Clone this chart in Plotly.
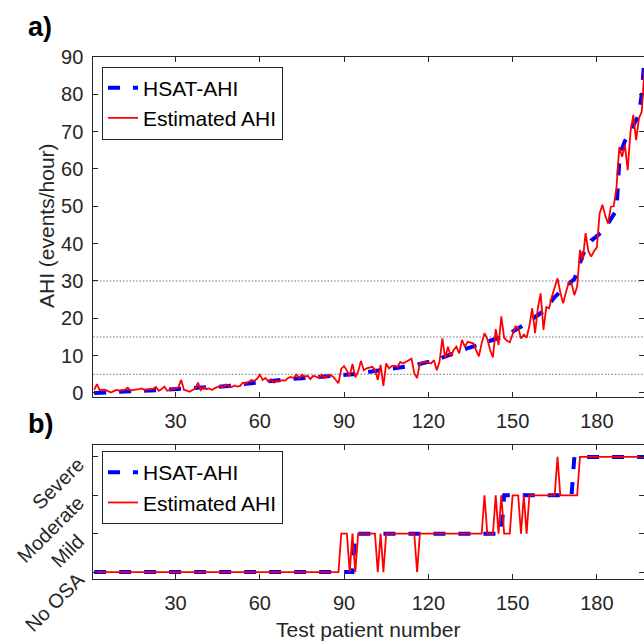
import numpy as np
import plotly.graph_objects as go

# ---- data -------------------------------------------------------------
# AHI (events/hour) for each test patient, sorted by the HSAT reference value
hsat_ahi = [
    0.0, 0.05, 0.1, 0.1, 0.15, 0.2, 0.2, 0.25, 0.3, 0.3,
    0.35, 0.35, 0.4, 0.4, 0.45, 0.5, 0.5, 0.55, 0.55, 0.6,
    0.6, 0.65, 0.7, 0.7, 0.75, 0.8, 0.85, 0.9, 0.95, 1.0,
    1.05, 1.1, 1.15, 1.2, 1.25, 1.3, 1.35, 1.4, 1.4, 1.45,
    1.5, 1.55, 1.6, 1.6, 1.65, 1.7, 1.7, 1.75, 1.8, 1.9,
    2.0, 2.1, 2.3, 2.4, 2.5, 2.6, 2.7, 2.8, 2.9, 3.0,
    3.1, 3.15, 3.2, 3.3, 3.35, 3.4, 3.5, 3.55, 3.6, 3.7,
    3.75, 3.8, 3.85, 3.9, 3.95, 4.0, 4.05, 4.1, 4.2, 4.25,
    4.3, 4.4, 4.45, 4.5, 4.55, 4.6, 4.65, 4.7, 4.75, 4.8,
    4.85, 4.9, 4.95, 5.1, 5.25, 5.35, 5.45, 5.55, 5.7, 5.8,
    5.9, 5.95, 6.0, 6.1, 6.15, 6.3, 6.45, 6.6, 6.75, 6.85,
    6.95, 7.0, 7.1, 7.2, 7.4, 7.6, 7.8, 7.95, 8.1, 8.25,
    8.4, 8.55, 8.75, 9.1, 9.5, 9.8, 10.0, 10.3, 10.6, 10.9,
    11.2, 11.5, 11.8, 12.0, 12.2, 12.5, 12.8, 13.1, 13.4, 13.6,
    13.8, 14.0, 14.2, 14.4, 14.6, 14.8, 15.2, 15.6, 16.0, 16.4,
    16.8, 17.2, 17.7, 18.2, 18.8, 19.3, 19.8, 20.2, 20.6, 21.1,
    21.7, 22.4, 23.2, 24.8, 25.7, 26.5, 27.3, 27.9, 28.5, 29.1,
    29.6, 30.5, 32.5, 35.0, 37.0, 38.5, 39.8, 40.8, 41.4, 42.0,
    42.6, 43.3, 44.2, 45.3, 46.4, 47.6, 49.0, 62.0, 65.5, 67.5,
    69.0, 70.5, 72.0, 73.2, 74.5, 80.0, 90.0,
]

estimated_ahi = [
    0.8, 2.4, 0.7, 0.9, 0.8, 0.5, 0.1, 0.5, 0.8, 0.6,
    0.7, 0.9, 1.4, 0.6, 0.8, 0.8, 1.0, 1.2, 0.8, 0.9,
    1.0, 1.1, 1.6, 0.6, 1.0, 1.7, 0.6, 0.8, 1.0, 1.2,
    1.5, 3.5, 0.8, 0.6, 0.3, 0.8, 1.2, 2.8, 0.8, 1.7,
    1.0, 1.2, 0.8, 1.3, 1.6, 1.9, 1.5, 2.3, 1.8, 1.6,
    2.0, 1.7, 1.9, 2.8, 2.5, 3.0, 3.5, 3.2, 3.8, 4.9,
    3.5, 4.0, 3.1, 3.7, 2.8, 3.2, 3.1, 3.4, 3.3, 4.0,
    4.3, 4.0, 4.9, 4.0, 4.9, 4.4, 4.6, 3.7, 4.6, 4.4,
    4.0, 4.9, 4.0, 4.6, 4.8, 4.4, 3.6, 2.6, 6.5, 7.2,
    6.0, 4.5, 7.8, 4.2, 5.7, 8.6, 6.1, 6.6, 6.8, 7.0,
    6.2, 3.5, 7.5, 1.9, 7.9, 6.6, 7.2, 7.3, 7.0, 8.3,
    7.9, 8.3, 8.8, 9.2, 5.3, 4.0, 7.9, 8.1, 8.4, 8.1,
    7.9, 8.8, 6.1, 8.4, 14.6, 9.3, 12.4, 9.7, 11.5, 12.4,
    10.6, 14.2, 12.4, 13.7, 13.5, 13.3, 11.5, 9.8, 13.3, 16.0,
    14.5, 11.5, 9.5, 17.1, 12.8, 20.5, 14.8, 14.0, 13.6, 15.8,
    17.8, 17.5, 14.6, 15.6, 14.8, 18.0, 22.7, 16.0, 22.7, 26.7,
    16.9, 23.0, 22.7, 25.8, 28.0, 30.7, 27.0, 24.0, 27.0, 29.6,
    29.4, 26.2, 28.5, 38.3, 35.6, 42.8, 38.0, 36.5, 38.0, 39.0,
    48.1, 50.4, 47.5, 45.4, 49.9, 50.0, 55.0, 65.9, 63.3, 66.4,
    59.7, 70.0, 74.5, 67.7, 73.6, 75.4, 87.0,
]

# OSA severity cut-offs (events/hour) and class names
severity_cutoffs = [5, 15, 30]
severity_labels = ["No OSA", "Mild", "Moderate", "Severe"]
severity_levels = [0, 1, 2, 3]

ahi_ticks = [0, 10, 20, 30, 40, 50, 60, 70, 80, 90]
patient_ticks = [30, 60, 90, 120, 150, 180]

# ---- derived ----------------------------------------------------------
patient = np.arange(1, len(hsat_ahi) + 1)
hsat_class = np.digitize(hsat_ahi, severity_cutoffs)
est_class = np.digitize(estimated_ahi, severity_cutoffs)

# ---- styling ----------------------------------------------------------
W, H = 644, 642
FONT = "Liberation Sans, Arial, Helvetica, sans-serif"
AX = "#262626"
BLUE = "#0000FF"
RED = "#FF0000"
blue_line = dict(color=BLUE, width=4, dash="12px,13px")
red_line = dict(color=RED, width=1.8)

x_dom = [93.3 / W, 1.0]
x_rng = [0.7, 196.8]
top_rng = [-1, 90]
bot_rng = [-0.18, 3.31]
top_dom = [1 - 396.7 / H, 1 - 57.0 / H]
bot_dom = [1 - 579.0 / H, 1 - 445.0 / H]

fig = go.Figure()

# a) continuous AHI
fig.add_trace(go.Scatter(x=patient, y=hsat_ahi, mode="lines", name="HSAT-AHI",
                         line=blue_line, xaxis="x", yaxis="y", legend="legend"))
fig.add_trace(go.Scatter(x=patient, y=estimated_ahi, mode="lines", name="Estimated AHI",
                         line=red_line, xaxis="x", yaxis="y", legend="legend"))

# b) severity class
fig.add_trace(go.Scatter(x=patient, y=hsat_class, mode="lines", name="HSAT-AHI",
                         line=blue_line, xaxis="x2", yaxis="y2", legend="legend2"))
fig.add_trace(go.Scatter(x=patient, y=est_class, mode="lines", name="Estimated AHI",
                         line=red_line, xaxis="x2", yaxis="y2", legend="legend2"))

# transparent carriers so the right-hand tick axes get drawn
fig.add_trace(go.Scatter(x=patient, y=hsat_ahi, mode="lines", opacity=0, showlegend=False,
                         hoverinfo="skip", line=dict(width=0), xaxis="x", yaxis="y3"))
fig.add_trace(go.Scatter(x=patient, y=hsat_class, mode="lines", opacity=0, showlegend=False,
                         hoverinfo="skip", line=dict(width=0), xaxis="x2", yaxis="y4"))

# severity cut-off guide lines in panel a)
for c in severity_cutoffs:
    fig.add_shape(type="line", xref="x domain", x0=0, x1=1, yref="y", y0=c, y1=c,
                  line=dict(color="#707070", width=1, dash="1.5px,1.8px"), layer="below")

xaxis_common = dict(
    domain=x_dom, range=x_rng, tickvals=patient_ticks, ticks="inside", ticklen=5,
    tickcolor=AX, showline=True, linecolor=AX, linewidth=1, mirror="ticks",
    showgrid=False, zeroline=False, tickfont=dict(size=20, color=AX, family=FONT),
    ticklabelstandoff=6, automargin=False,
)
yaxis_common = dict(
    ticks="inside", ticklen=5, tickcolor=AX, showline=True, linecolor=AX, linewidth=1,
    mirror=False, showgrid=False, zeroline=False, automargin=False,
    tickfont=dict(size=20, color=AX, family=FONT),
)
right_ticks = dict(
    side="right", ticks="inside", ticklen=5, tickcolor=AX, showline=False,
    showticklabels=False, showgrid=False, zeroline=False, automargin=False,
)

legend_common = dict(
    xanchor="left", yanchor="top", bgcolor="white", bordercolor=AX, borderwidth=1,
    font=dict(size=21, color="black", family=FONT), tracegroupgap=0, itemwidth=30,
)

fig.update_layout(
    template="none",
    width=W, height=H,
    margin=dict(l=0, r=0, t=0, b=0, pad=0, autoexpand=False),
    paper_bgcolor="white", plot_bgcolor="white",
    font=dict(family=FONT, color=AX),
    xaxis=dict(anchor="y", **xaxis_common),
    yaxis=dict(anchor="x", domain=top_dom, range=top_rng, tickvals=ahi_ticks,
               ticklabelstandoff=5, **yaxis_common),
    xaxis2=dict(anchor="y2", **xaxis_common),
    yaxis2=dict(anchor="x2", domain=bot_dom, range=bot_rng,
                tickvals=severity_levels, ticktext=severity_labels, tickangle=-45,
                ticklabelstandoff=10, ticklabelshift=5, **yaxis_common),
    yaxis3=dict(anchor="x", overlaying="y", range=top_rng, tickvals=ahi_ticks,
                **right_ticks),
    yaxis4=dict(anchor="x2", overlaying="y2", range=bot_rng, tickvals=severity_levels,
                **right_ticks),
    legend=dict(x=102 / W, y=1 - 66.5 / H, **legend_common),
    legend2=dict(x=102 / W, y=1 - 451 / H, **legend_common),
    showlegend=True,
)

annotations = [
    dict(text="<b>a)</b>", x=40 / W, y=1 - 27 / H, font=dict(size=27, color="black")),
    dict(text="<b>b)</b>", x=40 / W, y=1 - 424 / H, font=dict(size=27, color="black")),
    dict(text="AHI (events/hour)", x=47 / W, y=1 - 226 / H, textangle=-90,
         font=dict(size=21, color=AX)),
    dict(text="Test patient number", x=368 / W, y=1 - 629 / H,
         font=dict(size=21, color=AX)),
]
for a in annotations:
    a.update(xref="paper", yref="paper", showarrow=False, xanchor="center", yanchor="middle")
    a["font"]["family"] = FONT
fig.update_layout(annotations=annotations)

fig.write_html("out.html")
